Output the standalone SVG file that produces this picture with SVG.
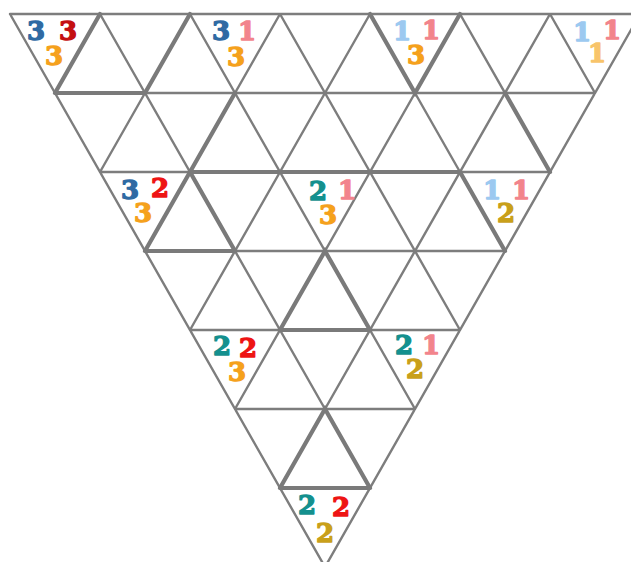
<svg xmlns="http://www.w3.org/2000/svg" width="631" height="562" viewBox="0 0 631 562">
<style>
.thin{stroke:#7d7d7d;stroke-width:2.4;fill:none;stroke-linecap:round}
.thick{stroke:#7a7a7a;stroke-width:4.2;fill:none;stroke-linecap:round}
text{font-family:"DejaVu Serif","Liberation Serif",serif;font-weight:bold;font-size:26px;text-anchor:middle;stroke-width:1.3;stroke-linejoin:round}
.blue{fill:#2f6aa3;stroke:#2f6aa3}
.dred{fill:#c40f12;stroke:#c40f12}
.red{fill:#ee1414;stroke:#ee1414}
.orange{fill:#f5a11c;stroke:#f5a11c}
.pink{fill:#f2848c;stroke:#f2848c}
.lblue{fill:#9cc9f0;stroke:#9cc9f0}
.lorange{fill:#f8c46a;stroke:#f8c46a}
.teal{fill:#14908e;stroke:#14908e}
.gold{fill:#c9a01a;stroke:#c9a01a}
</style>
<rect width="631" height="562" fill="#ffffff"/>
<g id="grid">
<path class="thin" d="M10,14L325,567M100,14L370,488M190,14L415,409M280,14L460,330M370,14L505,251M460,14L550,172M550,14L595,93
M100,14L55,93M190,14L100,172M280,14L145,251M370,14L190,330M460,14L235,409M550,14L280,488M640,14L325,567
M10,14H640M55,93H595M100,172H550M145,251H505M190,330H460M235,409H415M280,488H370"/>
</g>
<g id="borders">
<path class="thick" d="M55,93L100,14M145,93L190,14M55,93H145M370,14L415,93L460,14M190,172L235,93M505,93L550,172M190,172H460M145,251L190,172L235,251M145,251H235M460,172L505,251M280,330L325,251L370,330M280,330H370M280,488L325,409L370,488M280,488H370"/>
</g>
<g id="t1">
<text class="blue" x="36" y="40">3</text>
<text class="dred" x="68" y="40">3</text>
<text class="orange" x="54" y="65">3</text>
</g>
<g id="t2">
<text class="blue" x="221" y="40">3</text>
<text class="pink" x="247" y="40">1</text>
<text class="orange" x="236" y="66">3</text>
</g>
<g id="t3">
<text class="lblue" x="402" y="40">1</text>
<text class="pink" x="431" y="39">1</text>
<text class="orange" x="416" y="64">3</text>
</g>
<g id="t4">
<text class="lblue" x="582" y="41">1</text>
<text class="pink" x="612" y="39">1</text>
<text class="lorange" x="597" y="62">1</text>
</g>
<g id="t5">
<text class="blue" x="130" y="199">3</text>
<text class="red" x="160" y="197">2</text>
<text class="orange" x="143" y="222">3</text>
</g>
<g id="t6">
<text class="teal" x="318" y="200">2</text>
<text class="pink" x="347" y="199">1</text>
<text class="orange" x="328" y="224">3</text>
</g>
<g id="t7">
<text class="lblue" x="492" y="199">1</text>
<text class="pink" x="521" y="199">1</text>
<text class="gold" x="506" y="222">2</text>
</g>
<g id="t8">
<text class="teal" x="222" y="355">2</text>
<text class="red" x="248" y="357">2</text>
<text class="orange" x="237" y="381">3</text>
</g>
<g id="t9">
<text class="teal" x="404" y="354">2</text>
<text class="pink" x="431" y="354">1</text>
<text class="gold" x="415" y="378">2</text>
</g>
<g id="t10">
<text class="teal" x="307" y="514">2</text>
<text class="red" x="341" y="516">2</text>
<text class="gold" x="325" y="542">2</text>
</g>
</svg>
